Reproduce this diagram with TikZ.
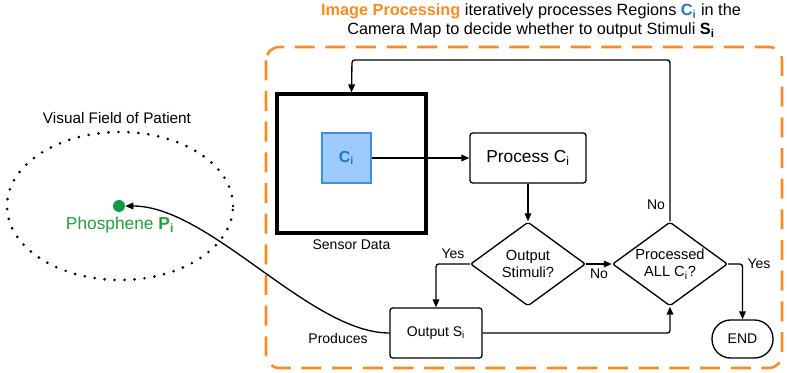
\documentclass[tikz,border=0pt]{standalone}
\usepackage{fontspec}
\setmainfont{Liberation Sans}
\usetikzlibrary{positioning, shapes, arrows.meta}
\definecolor{procorange}{HTML}{FF8A1C}
\definecolor{regblue}{HTML}{1F77D0}
\definecolor{regfill}{HTML}{9DCBFB}
\definecolor{regline}{HTML}{3B8EE0}
\definecolor{phosgreen}{HTML}{12994A}
\definecolor{phostext}{HTML}{1EA33A}
\tikzset{
  lbl/.style={font=\fontsize{10.5}{12}\selectfont},
  procbox/.style={draw, rounded corners=2pt, line width=1pt, minimum height=37.5pt, lbl},
  decision/.style={diamond, draw, line width=1pt, inner sep=0pt, aspect=1.37,
    minimum width=86.25pt, minimum height=63pt, align=center, rounded corners=1.5pt,
    font=\fontsize{11}{13}\selectfont},
  flow/.style={draw, line width=1pt, rounded corners=2pt, -{Triangle[length=6pt,width=5pt]}}
}
\begin{document}
\begin{tikzpicture}[x=0.75pt, y=-0.75pt]
    \useasboundingbox (0,0) rectangle (787,373);

    % image processing area
    \draw[procorange, line width=1.9pt, dash pattern=on 15pt off 8pt, rounded corners=10pt]
      (266,47) rectangle (782,368);
    \node[align=center, font=\fontsize{12.2}{14.25}\selectfont] (title) at (531,21)
      {\textcolor{procorange}{\textbf{Image Processing}} iteratively processes Regions \textcolor{regblue}{\textbf{C\textsubscript{i}}} in the\\
       Camera Map to decide whether to output Stimuli \textbf{S\textsubscript{i}}};

    \node[draw, line width=2.4pt, minimum width=111.75pt, minimum height=104.25pt] (sensor) at (351.5,163.5) {};
    \node[lbl, below=0pt of sensor] (sensor_lbl) {Sensor Data};
    \node[draw=regline, fill=regfill, line width=0.8pt, minimum width=36.75pt, minimum height=37.5pt,
          text=regblue, font=\fontsize{12}{14}\selectfont\bfseries] (c_i) at (346.5,158) {C\textsubscript{i}};

    \node[procbox, minimum width=87pt, font=\fontsize{13}{15}\selectfont] (proc) at (528,158) {Process C\textsubscript{i}};
    \node[decision] (out_q) at (528,264) {Output\\Stimuli?};
    \node[decision] (all_q) at (670,264) {Processed\\ALL C\textsubscript{i}?};
    \node[procbox, minimum width=69pt] (out_s) at (436,333) {Output S\textsubscript{i}};
    \node[procbox, rounded corners=14pt, minimum width=45.75pt, minimum height=28.5pt] (stop) at (742.5,339) {END};
    \coordinate (loop) at (352,60);

    % visual field
    \node[ellipse, draw, line width=2.2pt, line cap=round, dash pattern=on 0pt off 7.5pt,
          minimum width=169.5pt, minimum height=111pt] (field) at (120,206) {};
    \node[font=\fontsize{11.5}{13}\selectfont] (field_lbl) at (117,118) {Visual Field of Patient};
    \node[circle, fill=phosgreen, inner sep=0pt, minimum size=9pt] (phos) at (119,206) {};
    \node[text=phostext, font=\fontsize{13}{15}\selectfont] (phos_lbl) at (120,225) {Phosphene \textbf{P\textsubscript{i}}};

    \draw[flow] (c_i) -- (proc);
    \draw[flow] (proc) -- (out_q);
    \draw[flow] (out_q) -- node[lbl, below] {No} (all_q);
    \draw[flow] (out_q.west) -| node[lbl, pos=0.25, above] {Yes} (out_s.north);
    \draw[flow] (out_s.east) -| (all_q.south);
    \draw[flow] (all_q.east) -| node[lbl, pos=0.5, anchor=west] {Yes} (stop.north);
    \draw[flow] (all_q.north) |- node[lbl, pos=0.05, left] {No} (loop) -- (sensor.north);
    \draw[flow] (out_s.west) .. controls (310,333) and (210,206) .. (phos);
    \node[lbl] (prod_lbl) at (338,338) {Produces};
\end{tikzpicture}
\end{document}
